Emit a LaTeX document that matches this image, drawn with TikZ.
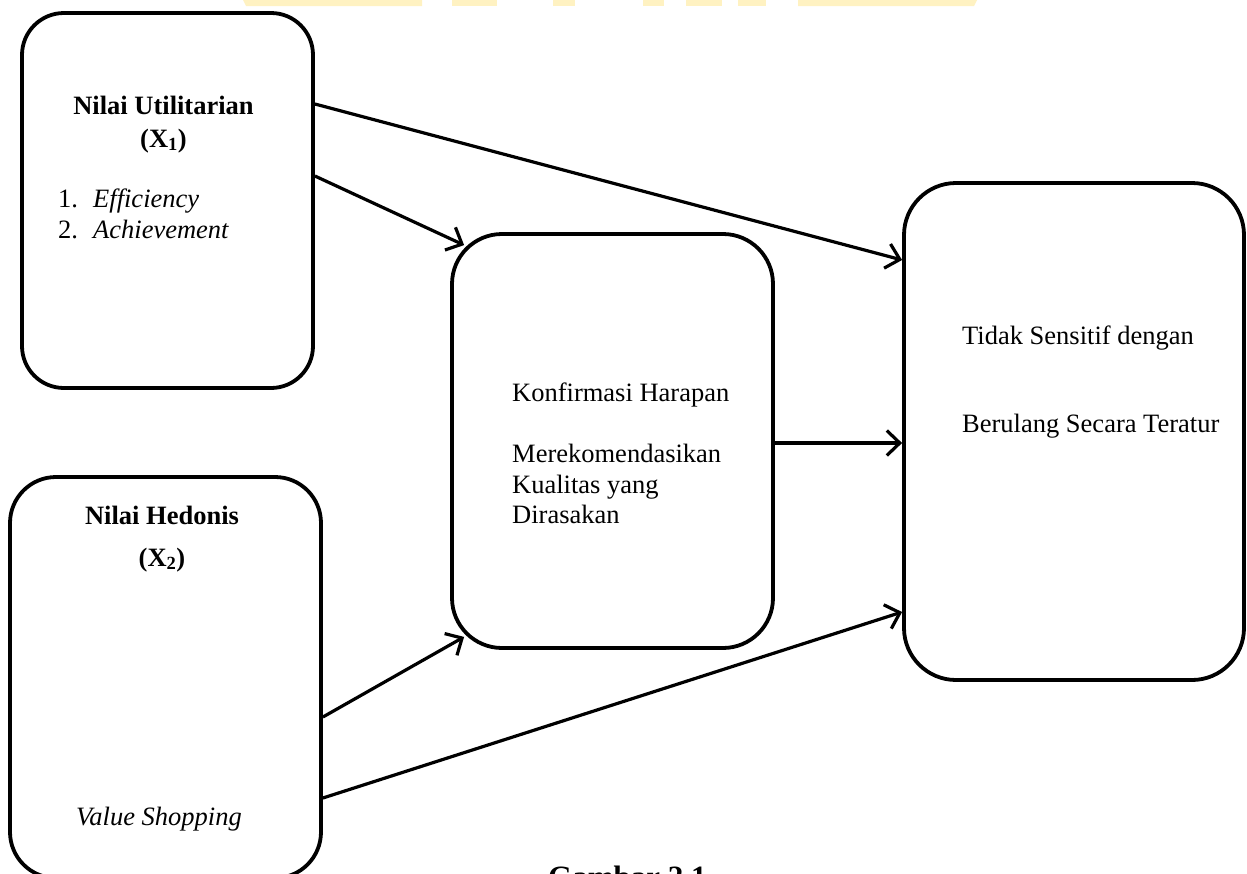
\documentclass[tikz,border=0pt]{standalone}
\usepackage{fontspec}
\setmainfont{Liberation Serif}
\usetikzlibrary{arrows.meta}
\definecolor{wmark}{HTML}{FFF2C2}
\tikzset{
  boxnode/.style={draw=black, line width=3.8pt, rounded corners=#1, inner sep=0pt, fill=none},
  txt/.style={font=\fontsize{26.5}{30.5}\selectfont, inner sep=0pt, anchor=base west},
  txtc/.style={font=\fontsize{26.5}{30.5}\selectfont, inner sep=0pt, anchor=base},
  capt/.style={font=\fontsize{31}{36}\selectfont\bfseries, inner sep=0pt, anchor=base west},
  conn/.style={line width=3.2pt, -{Straight Barb[length=13pt,width=25pt,line width=3.2pt]}},
}
\begin{document}
\begin{tikzpicture}[x=1pt,y=-1pt]
\useasboundingbox (0,0) rectangle (1247,873);
\fill[white] (0,0) rectangle (1247,873);
% watermark fragments
\fill[wmark] (243,0) -- (422,0) -- (422,6) -- (246,6) -- cycle;
\fill[wmark] (452,0) rectangle (497,6);
\fill[wmark] (553,0) rectangle (575,6);
\fill[wmark] (643,0) rectangle (664,6);
\fill[wmark] (686,0) rectangle (722,6);
\fill[wmark] (738,0) rectangle (766,6);
\fill[wmark] (798,0) -- (977,0) -- (974,6) -- (798,6) -- cycle;
% boxes
\node[boxnode=42pt, minimum width=291pt, minimum height=375pt] (b1) at (167.5,200.5) {};
\node[boxnode=46pt, minimum width=311pt, minimum height=401pt] (b2) at (165.5,677.5) {};
\node[boxnode=50pt, minimum width=321pt, minimum height=414pt] (b3) at (612.5,441) {};
\node[boxnode=52pt, minimum width=340pt, minimum height=497pt] (b4) at (1074,431.5) {};
% texts box 1
\node[txtc] (t1a) at (163.5,114) {\textbf{Nilai Utilitarian}};
\node[txtc] (t1b) at (163.5,147) {\textbf{(X$_{\mathbf{1}}$)}};
\node[txt] (t1c) at (58,207) {1.};
\node[txt] (t1d) at (93,207) {\textit{Efficiency}};
\node[txt] (t1e) at (58,238) {2.};
\node[txt] (t1f) at (93,238) {\textit{Achievement}};
% texts box 2
\node[txtc] (t2a) at (162,524) {\textbf{Nilai Hedonis}};
\node[txtc] (t2b) at (162,566) {\textbf{(X$_{\mathbf{2}}$)}};
\node[txtc] (t2c) at (159,825) {\textit{Value Shopping}};
% texts box 3
\node[txt] (t3a) at (512,401) {Konfirmasi Harapan};
\node[txt] (t3b) at (512,462) {Merekomendasikan};
\node[txt] (t3c) at (512,493) {Kualitas yang};
\node[txt] (t3d) at (512,523) {Dirasakan};
% texts box 4
\node[txt] (t4a) at (962,344) {Tidak Sensitif dengan};
\node[txt] (t4b) at (962,432) {Berulang Secara Teratur};
% caption (cut off at the lower edge, as in the reference)
\node[capt] (cap) at (548,887) {Gambar 2.1};
% connectors
\draw[conn] ([yshift=96.5pt]b1.east) -- ([yshift=171.5pt]b4.west);
\draw[conn] ([yshift=24.5pt]b1.east) -- ([xshift=14pt,yshift=-13pt]b3.north west);
\draw[conn] ([yshift=-2pt]b3.east) -- ([yshift=-11.5pt]b4.west);
\draw[conn] ([yshift=-39.5pt]b2.east) -- ([xshift=14pt,yshift=13pt]b3.south west);
\draw[conn] ([yshift=-120.5pt]b2.east) -- ([yshift=-180.5pt]b4.west);
\end{tikzpicture}
\end{document}
